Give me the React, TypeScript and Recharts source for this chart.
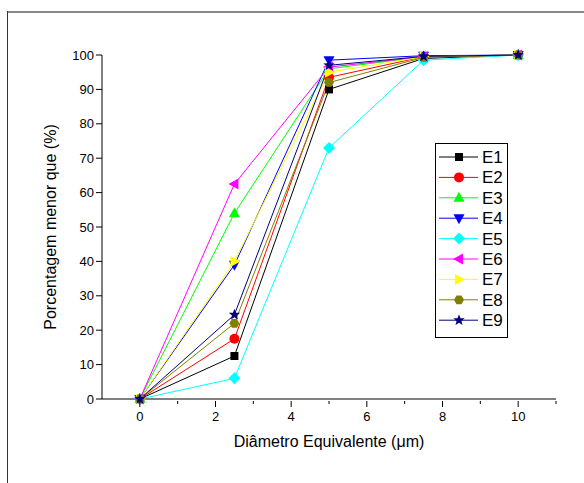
import { LineChart, Line, XAxis, YAxis, Label } from 'recharts';

const diameters = [0, 2.5, 5, 7.5, 10];
const e1 = [0, 12.5, 90, 99, 100];
const e2 = [0, 17.5, 93.5, 99.5, 100];
const e3 = [0, 54, 96, 99.5, 100];
const e4 = [0, 39, 98.5, 99.8, 100];
const e5 = [0, 6, 73, 98.5, 100];
const e6 = [0, 62.5, 96.5, 99.5, 100];
const e7 = [0, 40, 95, 99.5, 100];
const e8 = [0, 22, 92, 99.3, 100];
const e9 = [0, 24.5, 97, 99.6, 100];

const xTicks = [0, 1, 2, 3, 4, 5, 6, 7, 8, 9, 10, 11];
const yTicks = [0, 10, 20, 30, 40, 50, 60, 70, 80, 90, 100];

const series = [
  { key: 'E1', values: e1, color: '#000000', shape: 'square' },
  { key: 'E2', values: e2, color: '#FF0000', shape: 'circle' },
  { key: 'E3', values: e3, color: '#00FF00', shape: 'up' },
  { key: 'E4', values: e4, color: '#0000FF', shape: 'down' },
  { key: 'E5', values: e5, color: '#00FFFF', shape: 'diamond' },
  { key: 'E6', values: e6, color: '#FF00FF', shape: 'left' },
  { key: 'E7', values: e7, color: '#FFFF00', shape: 'right' },
  { key: 'E8', values: e8, color: '#808000', shape: 'hex' },
  { key: 'E9', values: e9, color: '#000080', shape: 'star' },
];

const data = diameters.map((d, i) => {
  const row: Record<string, number> = { x: d };
  series.forEach((s) => { row[s.key] = s.values[i]; });
  return row;
});

const FONT = '"Liberation Sans", Arial, sans-serif';

// marker glyph centred on (cx, cy)
const Marker = ({ cx, cy, shape, color }: { cx: number; cy: number; shape: string; color: string }) => {
  const r = 5;
  if (cx == null || cy == null) return null;
  switch (shape) {
    case 'square':
      return <rect x={cx - 4} y={cy - 4} width={8} height={8} fill={color} />;
    case 'circle':
      return <circle cx={cx} cy={cy} r={r} fill={color} />;
    case 'up':
      return <polygon points={`${cx},${cy - r - 1} ${cx + r + 0.5},${cy + r - 1} ${cx - r - 0.5},${cy + r - 1}`} fill={color} />;
    case 'down':
      return <polygon points={`${cx},${cy + r + 1} ${cx + r + 0.5},${cy - r + 1} ${cx - r - 0.5},${cy - r + 1}`} fill={color} />;
    case 'left':
      return <polygon points={`${cx - r - 1},${cy} ${cx + r - 1},${cy - r - 0.5} ${cx + r - 1},${cy + r + 0.5}`} fill={color} />;
    case 'right':
      return <polygon points={`${cx + r + 1},${cy} ${cx - r + 1},${cy - r - 0.5} ${cx - r + 1},${cy + r + 0.5}`} fill={color} />;
    case 'diamond':
      return <polygon points={`${cx},${cy - r - 1} ${cx + r + 1},${cy} ${cx},${cy + r + 1} ${cx - r - 1},${cy}`} fill={color} />;
    case 'hex': {
      const pts = [0, 1, 2, 3, 4, 5].map((k) => {
        const a = (Math.PI / 3) * k;
        return `${cx + r * Math.cos(a)},${cy + r * Math.sin(a)}`;
      });
      return <polygon points={pts.join(' ')} fill={color} />;
    }
    case 'star': {
      const pts: string[] = [];
      for (let k = 0; k < 10; k++) {
        const a = -Math.PI / 2 + (Math.PI / 5) * k;
        const rr = k % 2 === 0 ? r + 1 : (r + 1) * 0.42;
        pts.push(`${cx + rr * Math.cos(a)},${cy + rr * Math.sin(a)}`);
      }
      return <polygon points={pts.join(' ')} fill={color} />;
    }
    default:
      return null;
  }
};

const XTick = (props: any) => {
  const { x, y, payload } = props;
  const v = payload.value;
  const major = v % 2 === 0;
  return (
    <g>
      <line x1={x} y1={y - 6} x2={x} y2={y - 6 + (major ? 6 : 3)} stroke="#000" />
      {major && v <= 10 && (
        <text x={x} y={y + 14} textAnchor="middle" fontSize={13} fontFamily={FONT} fill="#000">
          {v}
        </text>
      )}
    </g>
  );
};

const LegendBox = () => (
  <svg width={74} height={196} style={{ display: 'block' }}>
    <rect x={0.5} y={0.5} width={72} height={194} fill="#fff" stroke="#000" />
    {series.map((s, i) => {
      const cy = 14 + i * 20.4;
      return (
        <g key={s.key}>
          <line x1={4} y1={cy} x2={43} y2={cy} stroke={s.color} />
          <Marker cx={24} cy={cy} shape={s.shape} color={s.color} />
          <text x={47} y={cy + 6} fontSize={17} fontFamily={FONT} fill="#000">
            {s.key}
          </text>
        </g>
      );
    })}
  </svg>
);

export default function App() {
  return (
    <div style={{ position: 'fixed', left: 0, top: 0, width: 584, height: 483, background: '#fff' }}>
      <div style={{ position: 'absolute', left: 7, top: 11, width: 577, height: 2, background: '#888' }} />
      <div style={{ position: 'absolute', left: 7, top: 11, width: 1, height: 472, background: '#333' }} />
      <LineChart
        width={584}
        height={483}
        data={data}
        margin={{ top: 55, right: 28, bottom: 24, left: 30 }}
        style={{ fontFamily: FONT }}
      >
        <XAxis
          dataKey="x"
          type="number"
          domain={[-1, 11]}
          ticks={xTicks}
          interval={0}
          height={60}
          tickLine={false}
          axisLine={{ stroke: '#000' }}
          tick={<XTick />}
          tickSize={6}
        >
          <Label value="Diâmetro Equivalente (μm)" position="insideBottom" offset={12} fontSize={16} fill="#000" fontFamily={FONT} />
        </XAxis>
        <YAxis
          type="number"
          domain={[0, 100]}
          ticks={yTicks}
          interval={0}
          width={72}
          tickSize={6}
          axisLine={{ stroke: '#000' }}
          tickLine={{ stroke: '#000' }}
          tick={{ fontSize: 13, fill: '#000', fontFamily: FONT }}
        >
          <Label
            value="Porcentagem menor que (%)"
            angle={-90}
            position="insideLeft"
            offset={20}
            fontSize={16}
            fill="#000"
            fontFamily={FONT}
            style={{ textAnchor: 'middle' }}
          />
        </YAxis>
        {series.map((s) => (
          <Line
            key={s.key}
            dataKey={s.key}
            stroke={s.color}
            strokeWidth={1}
            type="linear"
            isAnimationActive={false}
            dot={(p: any) => <Marker key={`${s.key}-${p.index}`} cx={p.cx} cy={p.cy} shape={s.shape} color={s.color} />}
            activeDot={false}
          />
        ))}
      </LineChart>
      <div style={{ position: 'absolute', left: 435, top: 143 }}>
        <LegendBox />
      </div>
    </div>
  );
}
